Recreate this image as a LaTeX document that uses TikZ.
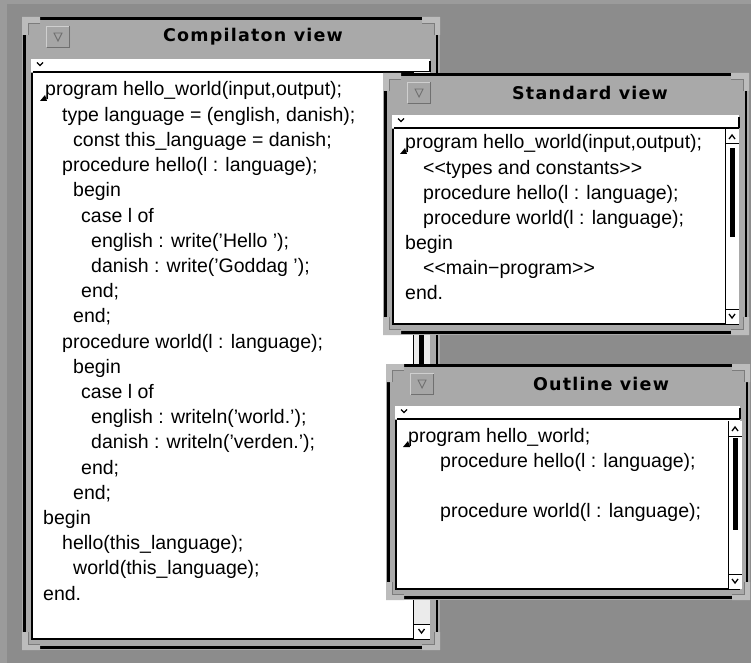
\documentclass[tikz,border=0pt]{standalone}
\usepackage{fontspec}
\setmainfont{Liberation Sans}
\newfontfamily\titlefont{DejaVu Sans}[LetterSpace=7]

\definecolor{desk}{HTML}{8C8C8C}
\definecolor{deskrim}{HTML}{9B9B9B}
\definecolor{winframe}{HTML}{A9A9A9}
\definecolor{cornerfill}{HTML}{BCBCBC}
\definecolor{cornerline}{HTML}{7C7C7C}
\definecolor{btnfill}{HTML}{A6A6A6}
\definecolor{btnlight}{HTML}{CFCFCF}
\definecolor{btndark}{HTML}{707070}
\definecolor{track}{HTML}{EBEBEB}

\tikzset{
  rim/.style={line width=2.5pt, black},
  code/.style={anchor=base west, inner sep=0pt, font=\fontsize{19.5}{22}\selectfont},
  titletext/.style={inner sep=0pt, font=\titlefont\bfseries\fontsize{17.5}{20}\selectfont},
  wincorner/.pic={
    \fill[cornerfill] (0,0) -| (18,6) -| (6,18) -- (0,18) -- cycle;
    \draw[cornerline, line width=0.8pt] (18,6) -| (6,18);
  }
}

% window frame: name, x1, y1, x2, y2, title, title centre x
\newcommand\appwindow[7]{%
  \fill[winframe] (#2,#3) rectangle (#4,#5);
  \draw[rim] ({#2+2.5},{#3+1.5}) rectangle ({#4-3},{#5-2.5});
  \pic at (#2,#3) {wincorner};
  \pic[xscale=-1] at (#4,#3) {wincorner};
  \pic[yscale=-1] at (#2,#5) {wincorner};
  \pic[scale=-1] at (#4,#5) {wincorner};
  % menu button
  \fill[btnfill, rounded corners=1.5pt] ({#2+24},{#3+9}) rectangle ({#2+48},{#3+31});
  \draw[btnlight, line width=1pt] ({#2+24.5},{#3+30.5}) |- ({#2+47.5},{#3+9.5});
  \draw[btndark, line width=1pt] ({#2+24.5},{#3+30.5}) -| ({#2+47.5},{#3+9.5});
  \draw[btndark, line width=0.9pt] ({#2+32},{#3+16}) -- ({#2+40},{#3+16}) -- ({#2+36},{#3+24}) -- cycle;
  \node[titletext] (#1-title) at (#7,{#3+20}) {#6};
  % header field
  \fill[white] ({#2+9},{#3+42}) rectangle ({#4-10},{#3+55});
  \draw[line width=2pt] ({#2+11},{#3+55}) -- ({#4-10},{#3+55});
  \draw[line width=1.2pt] ({#4-10},{#3+44}) -- ({#4-10},{#3+55});
  \draw[line width=1.3pt] ({#2+15},{#3+45.5}) -- ({#2+18},{#3+48.5}) -- ({#2+21},{#3+45.5});
  % text area
  \fill[white] ({#2+9},{#3+56}) rectangle ({#4-10},{#5-11});
  \draw[line width=1.5pt] ({#2+10},{#3+56}) -- ({#2+10},{#5-11}) -- ({#4-10},{#5-11});
}

% scroll bar: x left, x right, y top, y bottom, thumb top, thumb bottom, track colour
\newcommand\vscroll[7]{%
  \fill[#7] (#1,#3) rectangle (#2,#4);
  \draw[line width=1pt] (#1,#3) -- (#1,#4);
  \fill[white] ({#1+1},{#3+1}) rectangle (#2,{#3+15});
  \draw[line width=1pt] ({#1+1},{#3+15}) -- (#2,{#3+15});
  \draw[line width=1.3pt] ({(#1+#2)/2-3},{#3+10}) -- ({(#1+#2)/2},{#3+6}) -- ({(#1+#2)/2+3},{#3+10});
  \fill[white] ({#1+1},{#4-15}) rectangle (#2,#4);
  \draw[line width=1pt] ({#1+1},{#4-15}) -- (#2,{#4-15});
  \draw[line width=1.3pt] ({(#1+#2)/2-3},{#4-10}) -- ({(#1+#2)/2},{#4-6}) -- ({(#1+#2)/2+3},{#4-10});
  \fill[black] ({(#1+#2)/2-2.5},#5) rectangle ({(#1+#2)/2+2.5},#6);
}

\begin{document}
\begin{tikzpicture}[x=1pt,y=-1pt]
\useasboundingbox (0,0) rectangle (751,663);
\fill[desk] (0,0) rectangle (751,663);
\fill[deskrim] (0,0) rectangle (751,4);
\fill[deskrim] (0,0) rectangle (7,663);

% ---------- Compilation view ----------
\appwindow{comp}{22}{17}{440}{650}{Compilaton view}{253}
\vscroll{413}{430}{72}{639}{90}{520}{track}
\fill (40,101) -- (47,101) -- (45,95) -- cycle;
\node[code] (c1)  at (45, 96.0)  {program hello\_world(input,output);};
\node[code] (c2)  at (62, 121.2) {type language = (english, danish);};
\node[code] (c3)  at (73, 146.4) {const this\_language = danish;};
\node[code] (c4)  at (62, 171.6) {procedure hello(l : language);};
\node[code] (c5)  at (73, 196.8) {begin};
\node[code] (c6)  at (81, 222.0) {case l of};
\node[code] (c7)  at (91, 247.2) {english : write(’Hello ’);};
\node[code] (c8)  at (91, 272.4) {danish : write(’Goddag ’);};
\node[code] (c9)  at (81, 297.6) {end;};
\node[code] (c10) at (73, 322.8) {end;};
\node[code] (c11) at (62, 348.0) {procedure world(l : language);};
\node[code] (c12) at (73, 373.2) {begin};
\node[code] (c13) at (81, 398.4) {case l of};
\node[code] (c14) at (91, 423.6) {english : writeln(’world.’);};
\node[code] (c15) at (91, 448.8) {danish : writeln(’verden.’);};
\node[code] (c16) at (81, 474.0) {end;};
\node[code] (c17) at (73, 499.2) {end;};
\node[code] (c18) at (43, 524.4) {begin};
\node[code] (c19) at (62, 549.6) {hello(this\_language);};
\node[code] (c20) at (73, 574.8) {world(this\_language);};
\node[code] (c21) at (43, 600.0) {end.};

% ---------- Standard view ----------
\appwindow{std}{383}{73}{749}{335}{Standard view}{590}
\vscroll{725}{739}{129}{324}{148}{237}{white}
\fill (400,154) -- (407,154) -- (405,148) -- cycle;
\node[code] (s1) at (405, 149) {program hello\_world(input,output);};
\node[code] (s2) at (423, 174) {<{}<types and constants>{}>};
\node[code] (s3) at (423, 199) {procedure hello(l : language);};
\node[code] (s4) at (423, 224) {procedure world(l : language);};
\node[code] (s5) at (405, 249) {begin};
\node[code] (s6) at (423, 274) {<{}<main−program>{}>};
\node[code] (s7) at (405, 299) {end.};

% ---------- Outline view ----------
\appwindow{out}{386}{364}{750}{600}{Outline view}{601}
\vscroll{728}{742}{421}{589}{438}{530}{white}
\fill (403,447) -- (410,447) -- (408,441) -- cycle;
\node[code] (o1) at (408, 442) {program hello\_world;};
\node[code] (o2) at (440, 467) {procedure hello(l : language);};
\node[code] (o3) at (440, 517) {procedure world(l : language);};
\end{tikzpicture}
\end{document}
